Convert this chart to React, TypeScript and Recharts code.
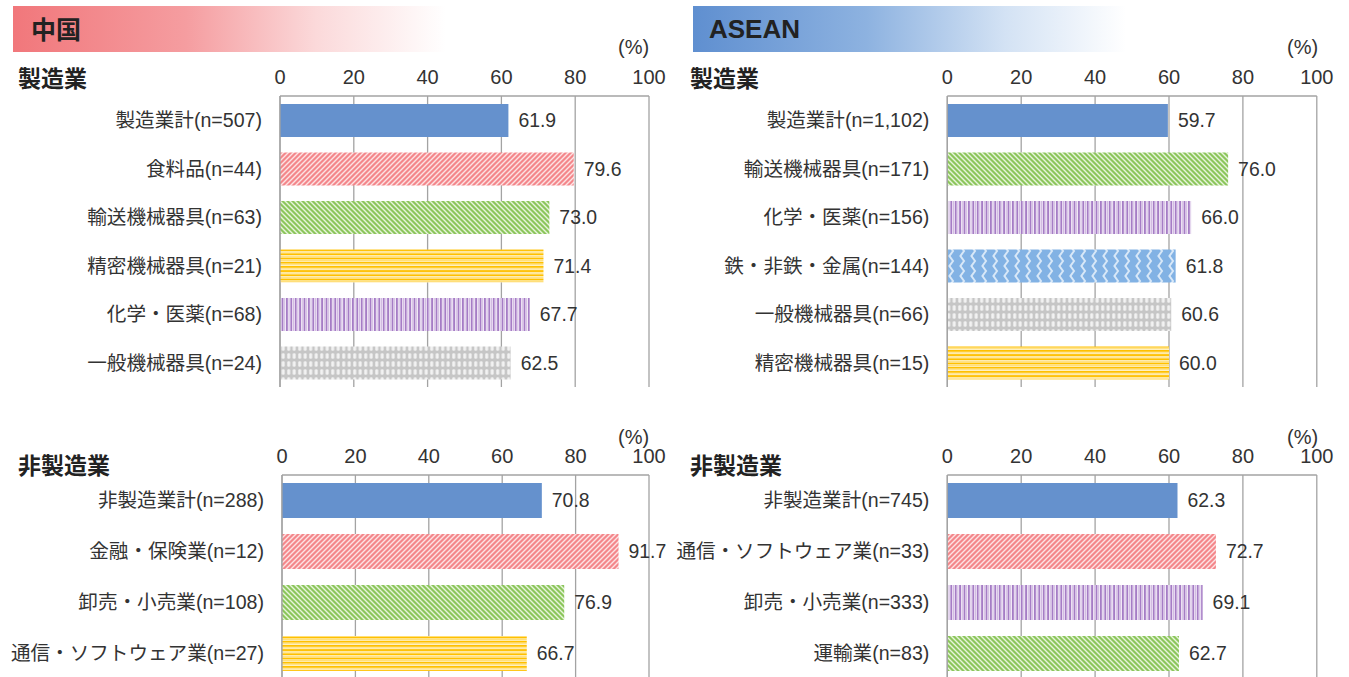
import React from 'react';
import { BarChart, Bar, XAxis, YAxis, CartesianGrid, Cell, LabelList } from 'recharts';

const FONT = '"Liberation Sans", Arial, "Noto Sans CJK JP", sans-serif';
const GRID = '#a3a3a3';
const TEXT = '#333333';

// ---------------- data ----------------
const xTicks = [0, 20, 40, 60, 80, 100];

const chinaMfgCategories = ['製造業計(n=507)', '食料品(n=44)', '輸送機械器具(n=63)', '精密機械器具(n=21)', '化学・医薬(n=68)', '一般機械器具(n=24)'];
const chinaMfgValues = [61.9, 79.6, 73.0, 71.4, 67.7, 62.5];

const chinaNonMfgCategories = ['非製造業計(n=288)', '金融・保険業(n=12)', '卸売・小売業(n=108)', '通信・ソフトウェア業(n=27)'];
const chinaNonMfgValues = [70.8, 91.7, 76.9, 66.7];

const aseanMfgCategories = ['製造業計(n=1,102)', '輸送機械器具(n=171)', '化学・医薬(n=156)', '鉄・非鉄・金属(n=144)', '一般機械器具(n=66)', '精密機械器具(n=15)'];
const aseanMfgValues = [59.7, 76.0, 66.0, 61.8, 60.6, 60.0];

const aseanNonMfgCategories = ['非製造業計(n=745)', '通信・ソフトウェア業(n=33)', '卸売・小売業(n=333)', '運輸業(n=83)'];
const aseanNonMfgValues = [62.3, 72.7, 69.1, 62.7];

// ---------------- styles (pattern per bar) ----------------
const chinaMfgPatterns = ['solid', 'red', 'green', 'yellow', 'purple', 'gray'];
const chinaNonMfgPatterns = ['solid', 'red', 'green', 'yellow'];
const aseanMfgPatterns = ['solid', 'green', 'purple', 'blue', 'gray', 'yellow'];
const aseanNonMfgPatterns = ['solid', 'red', 'purple', 'green'];

function PatternDefs({ p }: { p: string }) {
  return (
    <defs>
      <pattern id={`${p}-red`} width="5" height="5" patternUnits="userSpaceOnUse">
        <rect width="5" height="5" fill="#f4878b" />
        <path d="M-1,1 l2,-2 M0,5 l5,-5 M4,6 l2,-2" stroke="#fde3e4" strokeWidth="1.4" />
      </pattern>
      <pattern id={`${p}-green`} width="5" height="5" patternUnits="userSpaceOnUse">
        <rect width="5" height="5" fill="#8cc65c" />
        <path d="M-1,4 l2,2 M0,0 l5,5 M4,-1 l2,2" stroke="#e8f4dc" strokeWidth="1.4" />
      </pattern>
      <pattern id={`${p}-yellow`} width="6" height="4.2" patternUnits="userSpaceOnUse">
        <rect width="6" height="4.2" fill="#fff4cc" />
        <rect width="6" height="1.8" y="0" fill="#ffc000" />
        <rect width="6" height="0.8" y="2.6" fill="#ffdc70" />
      </pattern>
      <pattern id={`${p}-purple`} width="4.4" height="6" patternUnits="userSpaceOnUse">
        <rect width="4.4" height="6" fill="#f3ebf8" />
        <rect width="1.8" height="6" x="0" fill="#a57cc5" />
        <rect width="0.7" height="6" x="2.8" fill="#c9afdc" />
      </pattern>
      <pattern id={`${p}-gray`} width="5.5" height="8" patternUnits="userSpaceOnUse">
        <rect width="5.5" height="8" fill="#c6c6c6" />
        <rect x="1.2" y="1.2" width="3" height="5.6" rx="1.2" fill="#f2f2f2" />
      </pattern>
      <pattern id={`${p}-blue`} width="11" height="10" patternUnits="userSpaceOnUse">
        <rect width="11" height="10" fill="#82b2e4" />
        <polyline points="3,-0.5 7,5 3,10.5" fill="none" stroke="#d8e8f8" strokeWidth="2" />
      </pattern>
    </defs>
  );
}

type PanelProps = {
  idp: string;
  left: number;
  top: number;
  axisWidth: number;
  plotWidth: number;
  plotHeight: number;
  categories: string[];
  values: number[];
  patterns: string[];
  barSize: number;
};

function Panel({ idp, left, top, axisWidth, plotWidth, plotHeight, categories, values, patterns, barSize }: PanelProps) {
  const data = categories.map((name, i) => ({ name, value: values[i] }));
  const n = categories.length;
  const edgeTicks = Array.from({ length: n + 1 }, (_, i) => i);
  const rightMargin = 32;
  const topAxisH = 40;
  const width = axisWidth + plotWidth + rightMargin;
  const height = topAxisH + plotHeight + 2;
  const fillFor = (k: string) => (k === 'solid' ? '#6591cd' : `url(#${idp}-${k})`);
  return (
    <div style={{ position: 'absolute', left, top }}>
      <BarChart
        width={width}
        height={height}
        data={data}
        layout="vertical"
        margin={{ top: 0, right: rightMargin, bottom: 2, left: 0 }}
        barCategoryGap={0}
      >
        <PatternDefs p={idp} />
        <CartesianGrid xAxisId="top" yAxisId="cat" horizontal={false} stroke={GRID} strokeWidth={1.3} strokeDasharray="" />
        <XAxis
          xAxisId="top"
          type="number"
          orientation="top"
          domain={[0, 100]}
          ticks={xTicks}
          interval={0}
          height={topAxisH}
          tickSize={0}
          tickMargin={12}
          tickLine={false}
          axisLine={{ stroke: GRID, strokeWidth: 1.3 }}
          tick={{ fontSize: 20, fill: TEXT, fontFamily: FONT }}
        />
        <XAxis
          xAxisId="bot"
          type="number"
          orientation="bottom"
          domain={[0, 100]}
          height={0}
          tick={false}
          tickLine={false}
          axisLine={{ stroke: GRID, strokeWidth: 1.3 }}
        />
        <YAxis
          yAxisId="edge"
          type="number"
          domain={[0, n]}
          ticks={edgeTicks}
          interval={0}
          width={0}
          tick={false}
          tickSize={5}
          tickLine={{ stroke: GRID, strokeWidth: 1.3 }}
          axisLine={false}
        />
        <YAxis
          yAxisId="cat"
          type="category"
          dataKey="name"
          width={axisWidth}
          interval={0}
          tickLine={false}
          tickSize={0}
          tickMargin={18}
          axisLine={{ stroke: GRID, strokeWidth: 1.3 }}
          tick={{ fontSize: 19.6, fill: TEXT, fontFamily: FONT }}
        />
        <Bar xAxisId="top" yAxisId="cat" dataKey="value" barSize={barSize} isAnimationActive={false}>
          {data.map((d, i) => (
            <Cell key={d.name} fill={fillFor(patterns[i])} />
          ))}
          <LabelList
            dataKey="value"
            position="right"
            offset={10}
            fill={TEXT}
            formatter={(v: any) => Number(v).toFixed(1)}
            style={{ fontSize: 19.4, fill: TEXT, fontFamily: FONT }}
          />
        </Bar>
      </BarChart>
    </div>
  );
}

const abs = (left: number, top: number, extra: React.CSSProperties = {}): React.CSSProperties => ({
  position: 'absolute',
  left,
  top,
  fontFamily: FONT,
  color: '#222',
  lineHeight: 1,
  whiteSpace: 'nowrap',
  ...extra,
});

export default function App() {
  return (
    <div
      style={{
        position: 'absolute',
        left: 0,
        top: 0,
        width: 1349,
        height: 677,
        overflow: 'hidden',
        background: '#fff',
      }}
    >
      {/* header bars */}
      <div style={{ position: 'absolute', left: 13, top: 6, width: 433, height: 46, background: 'linear-gradient(to right, #f1777b 0%, #f59da0 40%, #fbd9da 70%, #ffffff 100%)' }} />
      <div style={{ position: 'absolute', left: 693, top: 6, width: 433, height: 46, background: 'linear-gradient(to right, #5f8fd0 0%, #8db2e0 40%, #d3e2f4 72%, #ffffff 100%)' }} />

      <Panel idp="cm" left={0} top={56} axisWidth={280} plotWidth={369} plotHeight={291} categories={chinaMfgCategories} values={chinaMfgValues} patterns={chinaMfgPatterns} barSize={33} />
      <Panel idp="cn" left={0} top={435} axisWidth={282} plotWidth={367} plotHeight={204} categories={chinaNonMfgCategories} values={chinaNonMfgValues} patterns={chinaNonMfgPatterns} barSize={35} />
      <Panel idp="am" left={660} top={56} axisWidth={287.3} plotWidth={369.5} plotHeight={291} categories={aseanMfgCategories} values={aseanMfgValues} patterns={aseanMfgPatterns} barSize={33} />
      <Panel idp="an" left={660} top={435} axisWidth={287.3} plotWidth={369.5} plotHeight={204} categories={aseanNonMfgCategories} values={aseanNonMfgValues} patterns={aseanNonMfgPatterns} barSize={35} />

      <div style={abs(31, 16, { fontSize: 25, fontWeight: 'bold', fontFamily: '"Noto Sans CJK JP", sans-serif' })}>中国</div>
      <div style={abs(709, 16, { fontSize: 26, fontWeight: 'bold' })}>ASEAN</div>

      <div style={abs(18, 66, { fontSize: 23, fontWeight: 'bold', fontFamily: '"Noto Sans CJK JP", sans-serif' })}>製造業</div>
      <div style={abs(18, 453, { fontSize: 23, fontWeight: 'bold', fontFamily: '"Noto Sans CJK JP", sans-serif' })}>非製造業</div>
      <div style={abs(690, 66, { fontSize: 23, fontWeight: 'bold', fontFamily: '"Noto Sans CJK JP", sans-serif' })}>製造業</div>
      <div style={abs(690, 453, { fontSize: 23, fontWeight: 'bold', fontFamily: '"Noto Sans CJK JP", sans-serif' })}>非製造業</div>

      <div style={abs(618, 37, { fontSize: 20, color: TEXT })}>(%)</div>
      <div style={abs(618, 427, { fontSize: 20, color: TEXT })}>(%)</div>
      <div style={abs(1287, 37, { fontSize: 20, color: TEXT })}>(%)</div>
      <div style={abs(1287, 427, { fontSize: 20, color: TEXT })}>(%)</div>
    </div>
  );
}
